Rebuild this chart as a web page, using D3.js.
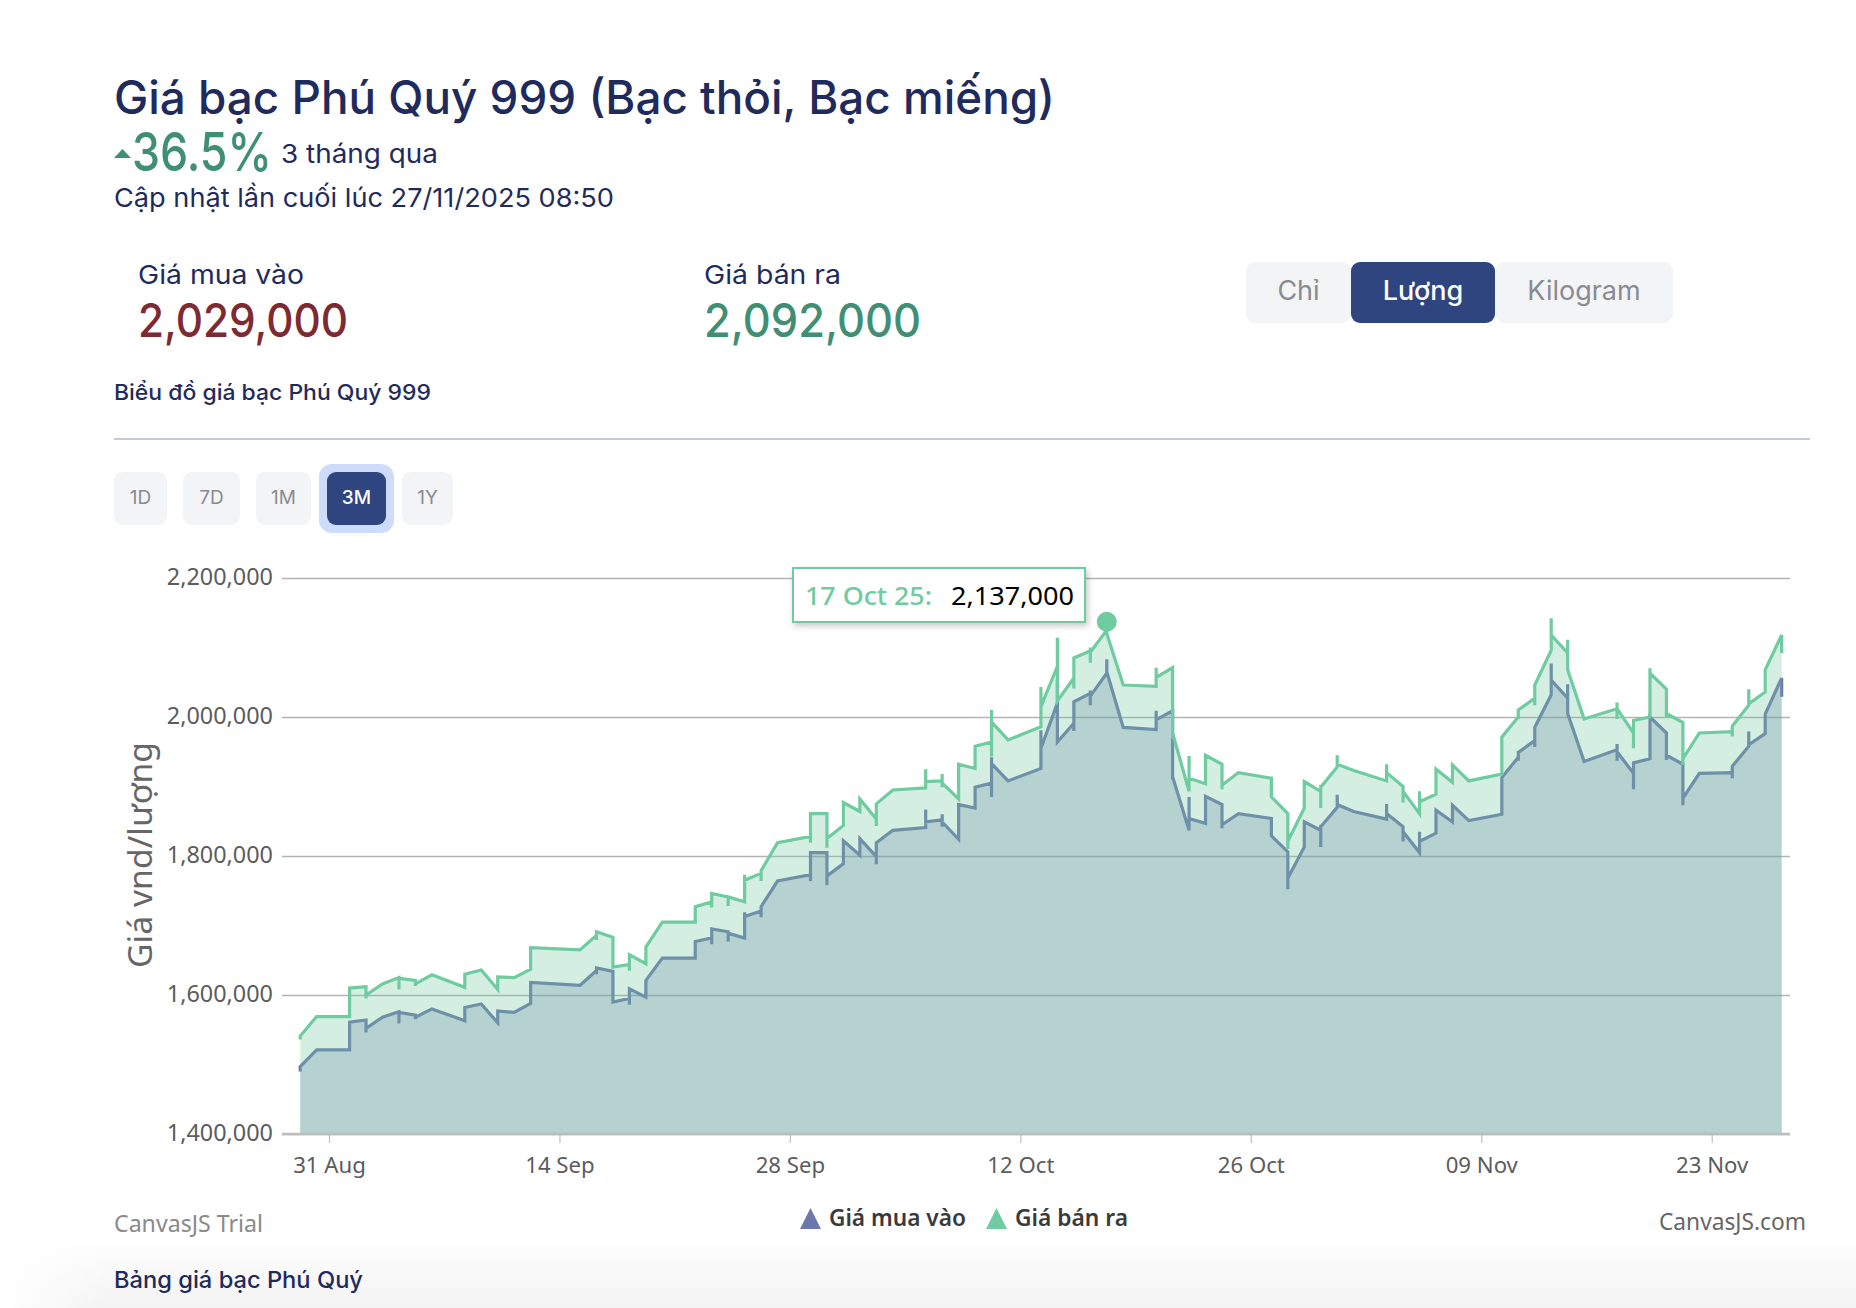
<!DOCTYPE html>
<html lang="vi">
<head>
<meta charset="utf-8">
<title>Giá bạc Phú Quý 999</title>
<script src="https://d3js.org/d3.v7.min.js"></script>
<style>
html,body{margin:0;padding:0;background:#fff;}
svg{display:block;}
</style>
</head>
<body>
<div id="chart"></div>
<script>
// ---- Data (VND per lượng). One entry per calendar day; a day can hold several quotes.
const days = ["08-29","08-30","09-01","09-02","09-03","09-04","09-05","09-06","09-08","09-09","09-10","09-11","09-12","09-15","09-16","09-17","09-18","09-19","09-20","09-22","09-23","09-24","09-25","09-26","09-27","09-29","09-30","10-01","10-02","10-03","10-04","10-06","10-07","10-08","10-09","10-10","10-11","10-13","10-14","10-15","10-16","10-17","10-18","10-20","10-21","10-22","10-23","10-24","10-25","10-27","10-28","10-29","10-30","10-31","11-01","11-03","11-04","11-05","11-06","11-07","11-08","11-10","11-11","11-12","11-13","11-14","11-15","11-17","11-18","11-19","11-20","11-21","11-22","11-24","11-25","11-26","11-27"];
const sellValues = [
[1536000,1541000],[1569000],[1569000,1610000],[1612000,1595000,1600000],[1616000],[1625000,1608000,1624000],[1621000,1613000,1616000],[1629000],
[1611000,1630000],[1636000],[1608000,1626000],[1625000],[1637000,1668000],
[1665000],[1686000,1679000,1691000],[1683000,1640000],[1644000,1635000,1658000],[1645000,1669000],[1705000],
[1705000,1727000],[1734000,1726000,1746000],[1741000,1728000,1741000],[1734000,1773000,1765000],[1775000,1764000,1779000],[1819000],
[1828000,1819000,1861000],[1861000,1812000,1825000],[1844000,1877000],[1864000,1882000],[1853000,1843000,1875000],[1895000],
[1898000,1925000,1907000],[1908000,1918000,1899000,1905000],[1882000,1932000],[1926000,1958000],[1964000,2010000,1943000,1993000],[1967000],
[1986000,2043000,2015000],[2073000,2114000,2023000],[2056000,2041000,2085000],[2095000,2100000,2078000,2093000],[2125000,2137000,2120000],[2046000],
[2044000,2071000,2057000],[2071000,1969000,1977000],[1893000,1944000,1912000],[1904000,1945000],[1932000,1896000,1902000],[1920000],
[1912000,1885000],[1861000,1810000,1821000],[1869000,1907000],[1893000,1902000,1869000,1899000],[1928000,1945000,1932000],[1923000],
[1908000,1932000,1920000],[1900000,1877000,1893000],[1861000,1893000,1878000],[1889000,1925000],[1906000,1931000],[1908000],
[1918000,1971000],[2000000,2012000,1997000,2010000],[2027000,2017000,2046000],[2096000,2142000,2118000],[2092000,2111000,2068000],[1997000],
[2012000,2021000,1997000,2012000],[1977000,1955000,1995000],[2000000,2070000,2063000],[2040000,2000000,2005000],[1992000,1931000,1940000],[1977000],
[1979000,1972000,1987000],[2017000,2040000,2019000],[2036000,2068000],[2118000,2092000]
];
const buyValues = [
[1490000,1497000],[1521000],[1521000,1561000],[1564000,1546000,1552000],[1568000],[1576000,1559000,1575000],[1571000,1565000,1568000],[1580000],
[1563000,1582000],[1587000],[1560000,1577000],[1575000],[1588000,1618000],
[1614000],[1635000,1630000,1639000],[1634000,1590000],[1595000,1586000,1609000],[1597000,1621000],[1653000],
[1653000,1677000],[1682000,1673000,1695000],[1691000,1677000,1689000],[1682000,1719000,1713000],[1721000,1712000,1727000],[1764000],
[1773000,1764000,1805000],[1805000,1758000,1771000],[1789000,1822000],[1801000,1825000],[1799000,1788000,1819000],[1837000],
[1841000,1867000,1849000],[1852000,1860000,1842000,1849000],[1824000,1874000],[1869000,1899000],[1905000,1942000,1885000,1933000],[1908000],
[1926000,1981000,1955000],[2020000,2054000,1964000],[1991000,1980000,2022000],[2034000,2038000,2017000,2030000],[2063000,2083000,2065000],[1985000],
[1982000,2009000,1996000],[2009000,1910000,1914000],[1837000,1885000,1854000],[1847000,1886000],[1874000,1840000,1845000],[1861000],
[1854000,1829000],[1806000,1752000,1768000],[1813000,1849000],[1837000,1845000,1813000,1842000],[1870000,1888000,1874000],[1864000],
[1853000,1875000,1861000],[1842000,1821000,1835000],[1805000,1835000,1821000],[1833000,1866000],[1849000,1873000],[1851000],
[1860000,1913000],[1942000,1951000,1937000,1949000],[1966000,1957000,1985000],[2032000,2077000,2053000],[2027000,2047000,2005000],[1936000],
[1953000,1961000,1937000,1950000],[1919000,1896000,1934000],[1940000,2000000],[1977000,1938000,1945000],[1932000,1873000,1883000],[1919000],
[1920000,1912000,1929000],[1958000,1979000,1960000],[1976000,2004000],[2056000,2029000]
];
const yTickValues = [1400000,1600000,1800000,2000000,2200000];
const xTickDates = ["2025-08-31","2025-09-14","2025-09-28","2025-10-12","2025-10-26","2025-11-09","2025-11-23"];
const tooltipDate = "2025-10-17";
const tooltipValue = 2137000;
const seriesNames = ["Giá mua vào","Giá bán ra"];
const unitButtons = ["Chỉ","Lượng","Kilogram"];
const rangeButtons = ["1D","7D","1M","3M","1Y"];

const CHART_FONT = '"Noto Sans", "Open Sans", sans-serif';
const UI_FONT = 'Inter, "Noto Sans", sans-serif';
const NAVY = "#1f2b5c", BUY = "#6D78AD", SELL = "#6FCBA0";

const parseDay = d3.utcParse("%Y-%m-%dT%H:%M");
const when = d => parseDay((d.length === 5 ? "2025-" + d : d) + "T06:00");
const flatten = vals => days.flatMap((d,i) => (vals[i]||[]).map(v => ({t: when(d), v})));
const buyPts = flatten(buyValues), sellPts = flatten(sellValues);

const svg = d3.select("#chart").append("svg").attr("width",1856).attr("height",1308).attr("viewBox","0 0 1856 1308");
const defs = svg.append("defs");
const grad = defs.append("linearGradient").attr("id","pageFade").attr("x1",0).attr("x2",0).attr("y1",0).attr("y2",1);
grad.append("stop").attr("offset","0").attr("stop-color","#ffffff");
grad.append("stop").attr("offset","1").attr("stop-color","#f3f3f3");
const side = defs.append("linearGradient").attr("id","sideFade").attr("x1",0).attr("x2",1).attr("y1",0).attr("y2",0);
side.append("stop").attr("offset","0").attr("stop-color","#ffffff").attr("stop-opacity",1);
side.append("stop").attr("offset","1").attr("stop-color","#ffffff").attr("stop-opacity",0);
svg.append("rect").attr("x",0).attr("y",1236).attr("width",1856).attr("height",72).attr("fill","url(#pageFade)");
svg.append("rect").attr("x",0).attr("y",1236).attr("width",110).attr("height",72).attr("fill","url(#sideFade)");

function txt(x,y,s,o={}){
  const t = svg.append("text").attr("x",x).attr("y",y).text(s)
    .attr("font-family",o.font||UI_FONT).attr("font-size",o.size||26).attr("font-weight",o.weight||400)
    .attr("fill",o.fill||NAVY).attr("text-anchor",o.anchor||"start");
  if(o.w){ t.attr("textLength",o.w).attr("lengthAdjust","spacingAndGlyphs"); }
  return t;
}

// ---- Header
txt(114,114,"Giá bạc Phú Quý 999 (Bạc thỏi, Bạc miếng)",{size:46,weight:500,w:941});
svg.append("path").attr("d","M114,158 L122.5,149 L131,158 Z").attr("fill","#3f8f75");
txt(132,171,"36.5%",{size:54,weight:500,fill:"#3f8f75",w:140});
txt(281,163,"3 tháng qua",{size:26,w:157});
txt(114,207,"Cập nhật lần cuối lúc 27/11/2025 08:50",{size:26,w:500});
txt(138,284,seriesNames[0],{size:26,w:166});
txt(138,337,"2,029,000",{size:47,weight:500,fill:"#7e2a33",w:210});
txt(704,284,seriesNames[1],{size:26,w:137});
txt(704,337,"2,092,000",{size:47,weight:500,fill:"#3f8f75",w:217});
txt(114,400,"Biểu đồ giá bạc Phú Quý 999",{size:22,weight:500,w:317});
svg.append("rect").attr("x",114).attr("y",438).attr("width",1696).attr("height",2).attr("fill","#c5c8d8");

// ---- Unit buttons
const unitBoxes = [[1246,105],[1351,144],[1495,178]];
unitButtons.forEach((b,i)=>{
  const on = b==="Lượng", [x,w]=unitBoxes[i];
  svg.append("rect").attr("x",x).attr("y",262).attr("width",w).attr("height",61).attr("rx",9)
    .attr("fill",on?"#2e4580":"#f3f4f6");
  txt(x+w/2,300,b,{size:27,weight:on?500:400,fill:on?"#ffffff":"#8a8b92",anchor:"middle"});
});

// ---- Range buttons
const rangeBoxes = [[114,53],[183,57],[256,55],[327,59],[402,51]];
rangeButtons.forEach((b,i)=>{
  const on = b==="3M", [x,w]=rangeBoxes[i];
  if(on) svg.append("rect").attr("x",x-8).attr("y",464).attr("width",w+16).attr("height",69).attr("rx",13).attr("fill","#cddcfb");
  svg.append("rect").attr("x",x).attr("y",472).attr("width",w).attr("height",53).attr("rx",9)
    .attr("fill",on?"#2e4580":"#f3f4f6");
  txt(x+w/2,504,b,{size:19,weight:on?500:400,fill:on?"#ffffff":"#8a8b92",anchor:"middle"});
});

// ---- Scales
const x = d3.scaleUtc().domain([new Date(Date.UTC(2025,7,31)),new Date(Date.UTC(2025,10,23))]).range([329,1711.7]);
const y = d3.scaleLinear().domain([1400000,2200000]).range([1134,578]);

// ---- Grid + y axis
const yAxis = d3.axisLeft(y).tickValues(yTickValues).tickSize(-1508).tickPadding(9).tickFormat(d3.format(","));
const gy = svg.append("g").attr("transform","translate(282,0)").call(yAxis);
gy.select(".domain").remove();
gy.selectAll(".tick line").attr("stroke","#b4b4b4").attr("stroke-width",1.7);
gy.selectAll(".tick text").attr("font-family",CHART_FONT).attr("font-size",23.4).attr("fill","#5c5c5c").attr("dy","0.28em");

// ---- Series
const areaGen = d3.area().x(d=>x(d.t)).y0(y(1400000)).y1(d=>y(d.v)).curve(d3.curveLinear);
const lineGen = d3.line().x(d=>x(d.t)).y(d=>y(d.v)).curve(d3.curveLinear);
[[buyPts,BUY],[sellPts,SELL]].forEach(([pts,c])=>{
  svg.append("path").datum(pts).attr("d",areaGen).attr("fill",c).attr("fill-opacity",0.3);
  svg.append("path").datum(pts).attr("d",lineGen).attr("fill","none").attr("stroke",c).attr("stroke-width",3.2).attr("stroke-linejoin","miter");
});

// ---- X axis
const xAxis = d3.axisBottom(x).tickValues(xTickDates.map(d=>new Date(d+"T00:00:00Z"))).tickSize(9).tickPadding(14).tickFormat(d3.utcFormat("%d %b"));
const gx = svg.append("g").attr("transform","translate(0,1134)").call(xAxis);
gx.select(".domain").remove();
gx.selectAll(".tick line").attr("stroke","#c0c0c0").attr("stroke-width",1.2);
gx.selectAll(".tick text").attr("font-family",CHART_FONT).attr("font-size",22.2).attr("fill","#5c5c5c");
svg.append("line").attr("x1",282).attr("x2",1790).attr("y1",y(1400000)).attr("y2",y(1400000)).attr("stroke","#bdbdbd").attr("stroke-width",2.4);

// ---- Axis title
svg.append("text").attr("transform","translate(152,855) rotate(-90)").attr("text-anchor","middle")
  .attr("font-family",CHART_FONT).attr("font-size",32).attr("fill","#666666").attr("textLength",226).attr("lengthAdjust","spacingAndGlyphs").text("Giá vnd/lượng");

// ---- Highlight + tooltip
const tipT = when(tooltipDate);
svg.append("circle").attr("cx",x(tipT)).attr("cy",y(tooltipValue)).attr("r",10).attr("fill",SELL);
svg.append("rect").attr("x",793).attr("y",568).attr("width",292).attr("height",54).attr("fill","#fff").attr("stroke",SELL).attr("stroke-width",2)
  .style("filter","drop-shadow(2px 3px 3px rgba(0,0,0,.22))");
txt(805,605,d3.utcFormat("%d %b %y")(tipT)+":",{font:CHART_FONT,size:26,weight:500,fill:SELL,w:127});
txt(951,605,d3.format(",")(tooltipValue),{font:CHART_FONT,size:26,weight:400,fill:"#000",w:123});

// ---- Legend
[[800,829,137,BUY],[986,1015,113,SELL]].forEach(([tx,lx,w,c],i)=>{
  svg.append("path").attr("d",d3.line()([[tx,1229],[tx+10.5,1208],[tx+21,1229]])+"Z").attr("fill",c);
  txt(lx,1226,seriesNames[i],{font:CHART_FONT,size:24,weight:600,fill:"#3a3a3a",w});
});

// ---- Footer
txt(114,1232,"CanvasJS Trial",{font:CHART_FONT,size:23,fill:"#8a8a8a",w:149});
txt(1659,1230,"CanvasJS.com",{font:CHART_FONT,size:23,fill:"#666666",w:147});
txt(114,1288,"Bảng giá bạc Phú Quý",{size:23,weight:500,w:249});
</script>
</body>
</html>
